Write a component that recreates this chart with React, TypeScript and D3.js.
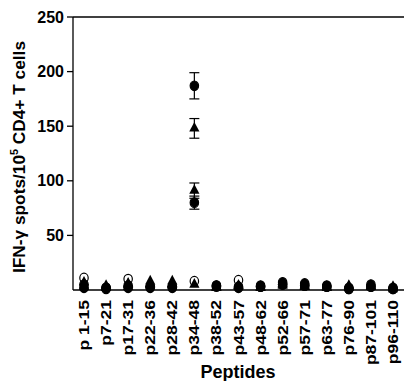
import React from "react";
import * as d3 from "d3";

const peptides = [
  "p 1-15", "p7-21", "p17-31", "p22-36", "p28-42", "p34-48", "p38-52", "p43-57",
  "p48-62", "p52-66", "p57-71", "p63-77", "p76-90", "p87-101", "p96-110",
];

// filled circles, filled triangles, open circles
const circleHigh = [5, 2, 4, 3, 3, 187, 4, 3, 4, 7, 6, 4, 2, 5, 2];
const circleHighErr = [0, 0, 0, 0, 0, 12, 0, 0, 0, 0, 0, 0, 0, 0, 0];
const triangleHigh = [7, 4, 6, 8, 8, 148, 3, 4, 3, 6, 4, 3, 4, 4, 3];
const triangleHighErr = [0, 0, 0, 0, 0, 9, 0, 0, 0, 0, 0, 0, 0, 0, 0];
const triangleLow = [3, 2, 3, 5, 5, 91, 2, 3, 2, 4, 3, 2, 2, 3, 1];
const triangleLowErr = [0, 0, 0, 0, 0, 7, 0, 0, 0, 0, 0, 0, 0, 0, 0];
const circleLow = [2, 1, 2, 2, 2, 80, 3, 2, 3, 5, 4, 3, 1, 3, 1];
const circleLowErr = [0, 0, 0, 0, 0, 6, 0, 0, 0, 0, 0, 0, 0, 0, 0];
const triangleBase = [4, 2, 5, 6, 6, 5, 2, 4, 2, 5, 3, 2, 3, 3, 2];
const openCircle = [11, 2, 10, 3, 3, 8, 4, 9, 3, 5, 4, 3, 1, 3, 1];

const yTicks = [50, 100, 150, 200, 250];

const font = "'Liberation Sans', Arial, sans-serif";

const App = () => {
  const width = 404;
  const height = 381;
  const x = d3.scalePoint<string>().domain(peptides).range([84, 393]);
  const y = d3.scaleLinear().domain([0, 250]).range([290, 17]);
  const tri = d3.symbol().type(d3.symbolTriangle).size(45)();

  const errBars = (vals: number[], errs: number[], key: string) =>
    vals.map((v, i) =>
      errs[i] > 0 ? (
        <g key={key + i} stroke="#000" strokeWidth={1.2}>
          <line x1={x(peptides[i])} x2={x(peptides[i])} y1={y(v - errs[i])} y2={y(v + errs[i])} />
          <line x1={x(peptides[i])! - 5} x2={x(peptides[i])! + 5} y1={y(v - errs[i])} y2={y(v - errs[i])} />
          <line x1={x(peptides[i])! - 5} x2={x(peptides[i])! + 5} y1={y(v + errs[i])} y2={y(v + errs[i])} />
        </g>
      ) : null
    );

  const circles = (vals: number[], key: string, open = false) =>
    vals.map((v, i) => (
      <ellipse
        key={key + i}
        cx={x(peptides[i])}
        cy={y(v)}
        rx={4.2}
        ry={4.8}
        fill={open ? "#fff" : "#000"}
        stroke="#000"
        strokeWidth={1.2}
      />
    ));

  const triangles = (vals: number[], key: string) =>
    vals.map((v, i) => (
      <path key={key + i} d={tri!} transform={`translate(${x(peptides[i])},${y(v)}) scale(1,1.1)`} fill="#000" />
    ));

  return (
    <svg width={width} height={height} style={{ position: "absolute", left: 0, top: 0, background: "#fff" }}>
      {/* open circles drawn first, filled markers on top */}
      {circles(openCircle, "o", true)}
      {errBars(circleHigh, circleHighErr, "ech")}
      {errBars(triangleHigh, triangleHighErr, "eth")}
      {errBars(triangleLow, triangleLowErr, "etl")}
      {errBars(circleLow, circleLowErr, "ecl")}
      {circles(circleHigh, "ch")}
      {triangles(triangleHigh, "th")}
      {triangles(triangleLow, "tl")}
      {circles(circleLow, "cl")}
      {triangles(triangleBase, "tb")}

      <g stroke="#000" strokeWidth={1.3}>
        <line x1={73} x2={73} y1={17} y2={290} />
        <line x1={73} x2={404} y1={290} y2={290} />
        <line x1={73} x2={404} y1={17} y2={17} />
        {yTicks.map((t) => (
          <line key={t} x1={67} x2={73} y1={y(t)} y2={y(t)} />
        ))}
      </g>
      {yTicks.map((t) => (
        <text key={t} x={64} y={y(t)} dy="0.35em" textAnchor="end" fontFamily={font} fontWeight="bold" fontSize={16}>
          {t}
        </text>
      ))}
      {peptides.map((p) => (
        <text
          key={p}
          transform={`translate(${x(p)! + 5},300) rotate(-90) scale(1.25,1)`}
          textAnchor="end"
          fontFamily={font}
          fontWeight="bold"
          fontSize={14}
        >
          {p}
        </text>
      ))}
      <text
        transform="translate(25,157) rotate(-90) scale(1.08,1)"
        textAnchor="middle"
        fontFamily={font}
        fontWeight="bold"
        fontSize={16}
      >
        IFN-γ spots/10
        <tspan dy={-7} fontSize={10}>5</tspan>
        <tspan dy={7}> CD4+ T cells</tspan>
      </text>
      <text x={238} y={378} textAnchor="middle" fontFamily={font} fontWeight="bold" fontSize={18}>
        Peptides
      </text>
    </svg>
  );
};

export default App;
